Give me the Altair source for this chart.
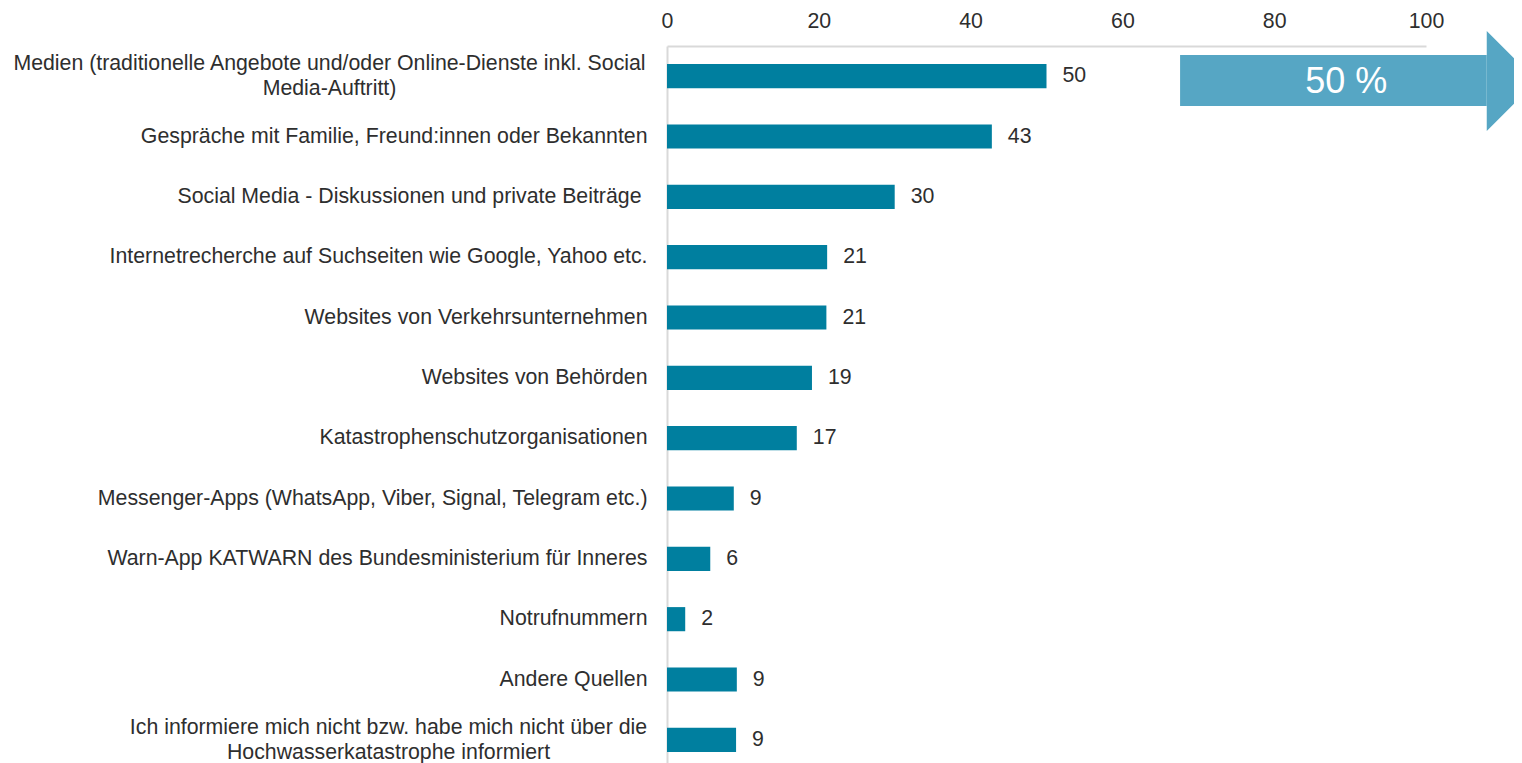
import altair as alt
import pandas as pd

categories = [
    "Medien (traditionelle Angebote und/oder Online-Dienste inkl. Social|Media-Auftritt)",
    "Gespräche mit Familie, Freund:innen oder Bekannten",
    "Social Media - Diskussionen und private Beiträge ",
    "Internetrecherche auf Suchseiten wie Google, Yahoo etc.",
    "Websites von Verkehrsunternehmen",
    "Websites von Behörden",
    "Katastrophenschutzorganisationen",
    "Messenger-Apps (WhatsApp, Viber, Signal, Telegram etc.)",
    "Warn-App KATWARN des Bundesministerium für Inneres",
    "Notrufnummern",
    "Andere Quellen",
    "Ich informiere mich nicht bzw. habe mich nicht über die|Hochwasserkatastrophe informiert",
]
values = [50.0, 42.8, 30.0, 21.1, 21.0, 19.1, 17.1, 8.8, 5.7, 2.4, 9.2, 9.1]
x_ticks = [0, 20, 40, 60, 80, 100]

callout_text = ["50 %"]
callout_start = [67.6]
callout_end = [108.0]
callout_mid = [89.5]

FONT = "Liberation Sans"
FS = 21.3
TEXT_COLOR = "#2e2e2e"
BAR_COLOR = "#007f9f"
ARROW_COLOR = "#56a6c4"
AXIS_COLOR = "#d9d9d9"

df = pd.DataFrame({"cat": categories, "value": values})
arrow_df = pd.DataFrame({"x0": callout_start, "x1": callout_end, "xm": callout_mid, "t": callout_text})

x_enc = alt.X(
    "value:Q",
    title=None,
    scale=alt.Scale(domain=[0, 100]),
    axis=alt.Axis(
        orient="top", values=x_ticks, grid=False, ticks=False, tickSize=0,
        labelFlush=False, labelOverlap=False,
        labelPadding=15, domainColor=AXIS_COLOR, domainWidth=2,
        labelFontSize=FS, labelFont=FONT, labelColor=TEXT_COLOR,
    ),
)
y_enc = alt.Y(
    "cat:N",
    title=None,
    sort=categories,
    scale=alt.Scale(range=[0, 724], paddingInner=0.6, paddingOuter=0.3),
    axis=alt.Axis(
        ticks=False, tickSize=0, domainColor=AXIS_COLOR, domainWidth=2,
        labelFontSize=FS, labelFont=FONT, labelColor=TEXT_COLOR,
        labelLimit=900, labelLineHeight=25,
        labelExpr="split(datum.label, '|')",
        labelAlign={
            "condition": {"test": "indexof(datum.value, '|') >= 0", "value": "center"},
            "value": "right",
        },
        labelOffset={
            "condition": {"test": "indexof(datum.value, '|') >= 0", "value": -12},
            "value": 0,
        },
        labelPadding={
            "condition": [
                {"test": "indexof(datum.value, 'Medien (') == 0", "value": 338},
                {"test": "indexof(datum.value, 'Ich informiere') == 0", "value": 279},
                {"test": "indexof(datum.value, 'Social Media -') == 0", "value": 26},
            ],
            "value": 20,
        },
    ),
)

base = alt.Chart(df)
bars = base.mark_bar(color=BAR_COLOR).encode(x=x_enc, y=y_enc)
labels = base.mark_text(
    align="left", baseline="middle", dx=16, fontSize=FS, font=FONT, color=TEXT_COLOR
).encode(x="value:Q", y=alt.Y("cat:N", sort=categories), text=alt.Text("value:Q", format=".0f"))

abase = alt.Chart(arrow_df)
rect = abase.mark_rect(color=ARROW_COLOR).encode(
    x=alt.X("x0:Q"), x2="x1:Q", y=alt.value(9), y2=alt.value(60)
)
head = abase.mark_point(
    shape="M0,-1L1,0L0,1Z", size=10000, filled=True, color=ARROW_COLOR, opacity=1, strokeWidth=0
).encode(x=alt.X("x1:Q"), y=alt.value(35))
atext = abase.mark_text(
    fontSize=36, font=FONT, color="white", align="center", baseline="middle"
).encode(x=alt.X("xm:Q"), y=alt.value(36), text="t:N")

chart = alt.layer(bars, labels, rect, head, atext).properties(
    width=759,
    height=717,
    padding={"left": 659, "top": 38, "right": 88, "bottom": 0},
    autosize=alt.AutoSizeParams(type="none"),
).configure_view(stroke=None)

chart.save("out.html", embed_options={"renderer": "svg", "actions": False})
